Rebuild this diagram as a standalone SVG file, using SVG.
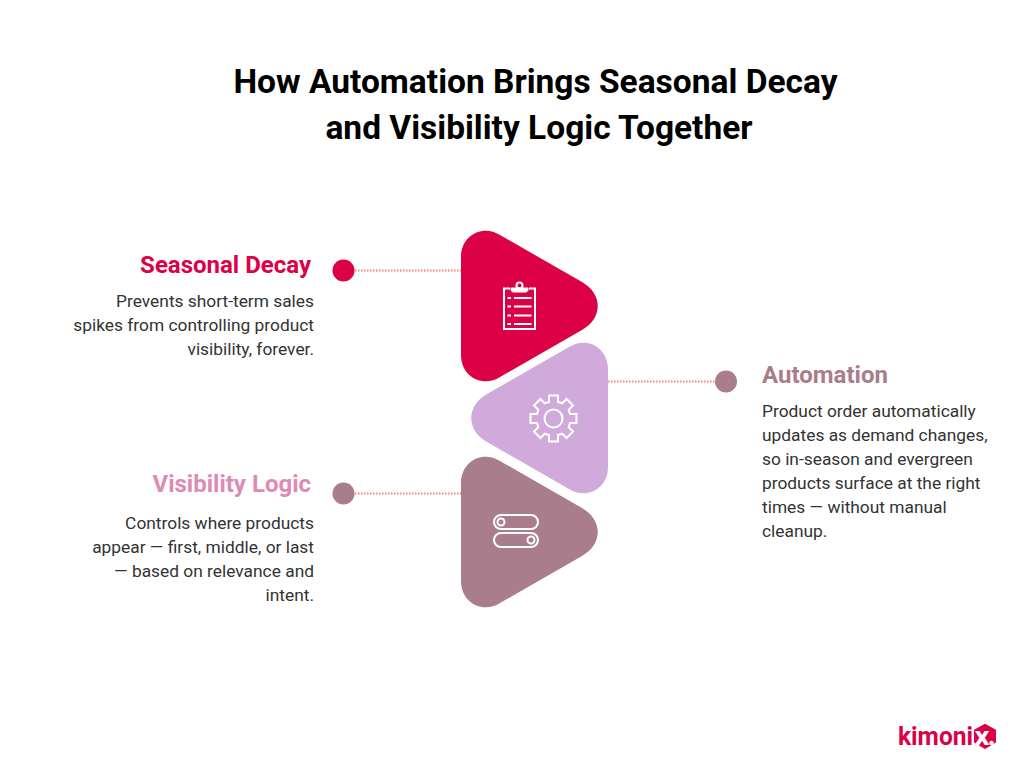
<svg xmlns="http://www.w3.org/2000/svg" width="1024" height="768" viewBox="0 0 1024 768">
<style>
text{font-family:Roboto,"Liberation Sans",sans-serif}
.title{font-size:33.500px;font-weight:700;fill:#000;text-anchor:middle}
.head{font-size:24px;font-weight:700}
.body{font-size:17.350px;font-weight:400;fill:#333}
.end{text-anchor:end}
.dot{stroke:#fa8080;stroke-width:2;stroke-dasharray:1.500 1.500;fill:none}
.ic{fill:none;stroke:#fff;stroke-width:2}
</style>
<defs>
<path id="tri" d="M461 257C461 235 483 224 500 235L582 282C603 294 603 318 582 330L500 377C483 388 461 377 461 355Z"/>
</defs>
<rect width="1024" height="768" fill="#fff"/>
<g id="title">
<text class="title" x="535.500" y="93">How Automation Brings Seasonal Decay</text>
<text class="title" x="539" y="139">and Visibility Logic Together</text>
</g>
<g id="connectors">
<line class="dot" x1="355" y1="270.500" x2="461" y2="270.500"/>
<line class="dot" x1="608" y1="381.500" x2="716" y2="381.500"/>
<line class="dot" x1="355" y1="493.500" x2="461" y2="493.500"/>
</g>
<g id="seasonal-decay">
<use href="#tri" fill="#dc0046"/>
<circle cx="343.500" cy="270.500" r="11" fill="#dc0046"/>
<text class="head end" x="311" y="273" fill="#dc0046">Seasonal Decay</text>
<text class="body end"><tspan x="314" y="307">Prevents short-term sales</tspan><tspan x="314" y="331">spikes from controlling product</tspan><tspan x="314" y="355">visibility, forever.</tspan></text>
<g class="ic">
<path d="M510 288.500H504V329H535V288.500H529"/>
<path d="M511 288H528V289.500C528 291 527 292 525 292H514C512 292 511 291 511 289.500Z" fill="#fff" stroke-width="1"/>
<circle cx="519.500" cy="285.500" r="3"/>
<path d="M507.500 298H511M514 298H531.500M507.500 306.500H511M514 306.500H531.500M507.500 315.500H511M514 315.500H531.500M507.500 324H511M514 324H531.500"/>
</g>
</g>
<g id="automation">
<use href="#tri" transform="translate(1069 0) scale(-1 1) translate(0 112)" fill="#d1aadc"/>
<circle cx="726" cy="381.500" r="11" fill="#aa7d8c"/>
<text class="head" x="762" y="383" fill="#aa7d8c">Automation</text>
<text class="body"><tspan x="762" y="417">Product order automatically</tspan><tspan x="762" y="441">updates as demand changes,</tspan><tspan x="762" y="465">so in-season and evergreen</tspan><tspan x="762" y="489">products surface at the right</tspan><tspan x="762" y="513">times — without manual</tspan><tspan x="762" y="537">cleanup.</tspan></text>
<g class="ic" transform="translate(553.500 418.500)">
<circle r="9"/>
<path d="M-4.500 -23H4.500V-16.500L8.800 -15.200L13.100 -19.500L19.500 -13.100L15.200 -8.800L16.500 -4.500H23V4.500H16.500L15.200 8.800L19.500 13.100L13.100 19.500L8.800 15.200L4.500 16.500V23H-4.500V16.500L-8.800 15.200L-13.100 19.500L-19.500 13.100L-15.200 8.800L-16.500 4.500H-23V-4.500H-16.500L-15.200 -8.800L-19.500 -13.100L-13.100 -19.500L-8.800 -15.200L-4.500 -16.500Z"/>
</g>
</g>
<g id="visibility-logic">
<use href="#tri" transform="translate(0 226)" fill="#aa7d8c"/>
<circle cx="343.500" cy="493.500" r="11" fill="#aa7d8c"/>
<text class="head end" x="311" y="492" fill="#dc8cb4">Visibility Logic</text>
<text class="body end"><tspan x="314" y="529">Controls where products</tspan><tspan x="314" y="553">appear — first, middle, or last</tspan><tspan x="314" y="577">— based on relevance and</tspan><tspan x="314" y="601">intent.</tspan></text>
<g class="ic">
<rect x="494" y="515" width="44" height="14" rx="7"/>
<rect x="494" y="533" width="44" height="14" rx="7"/>
<circle cx="501" cy="522" r="3.500"/>
<circle cx="531" cy="540" r="3.500"/>
</g>
</g>
<g id="logo">
<path d="M985 725L995 730.500V742L985 748L975 742V730.500Z" fill="#dc0046" stroke="#dc0046" stroke-width="2" stroke-linejoin="round"/>
<text x="898" y="745" font-size="25" font-weight="700" fill="#dc0046" textLength="75" lengthAdjust="spacingAndGlyphs">kimoni</text>
<text x="974.500" y="745" font-size="26" font-weight="700" fill="#fff" textLength="15" lengthAdjust="spacingAndGlyphs">x</text>
<circle cx="991.500" cy="743" r="2.300" fill="#fff"/>
</g>
</svg>
